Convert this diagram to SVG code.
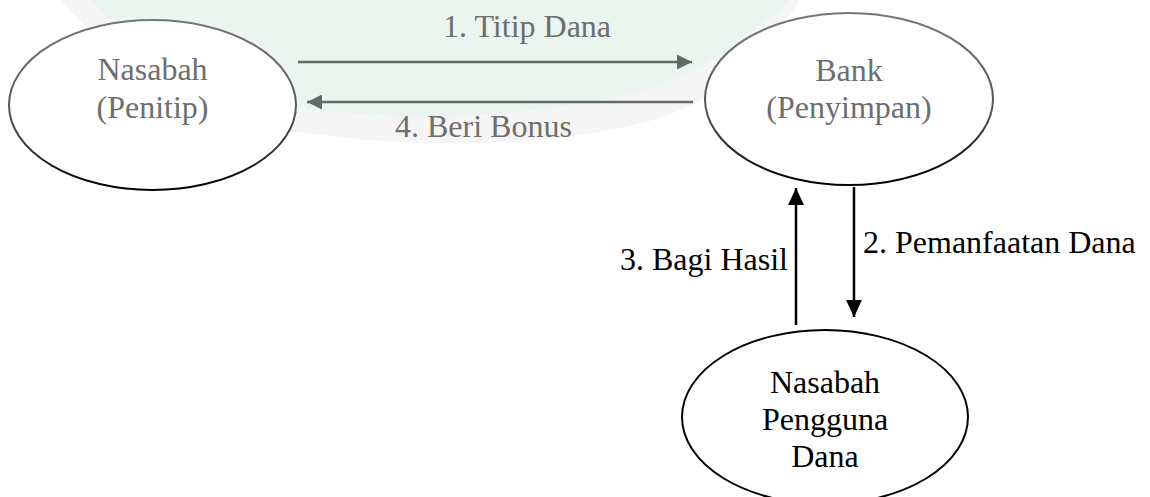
<svg xmlns="http://www.w3.org/2000/svg" width="1150" height="497" viewBox="0 0 1150 497">
  <style>
    .lbl { font-family: "Liberation Serif", "Times New Roman", serif; font-size: 32px; }
    .faded { fill: #6e6e6e; }
    .dark { fill: #000000; }
    .node { fill: #ffffff; stroke-width: 2; }
    .gline { stroke: #5f6b64; stroke-width: 2.5; fill: none; }
    .bline { stroke: #000000; stroke-width: 2.5; fill: none; }
  </style>
  <defs>
    <linearGradient id="fadeStroke" x1="0" y1="0" x2="0" y2="1">
      <stop offset="0" stop-color="#777777"/>
      <stop offset="0.55" stop-color="#555555"/>
      <stop offset="1" stop-color="#000000"/>
    </linearGradient>
    <marker id="gArrow" markerUnits="userSpaceOnUse" markerWidth="15" markerHeight="15" refX="15" refY="7.5" orient="auto">
      <path d="M0,0 L15,7.5 L0,15 z" fill="#5f6b64"/>
    </marker>
    <marker id="bArrow" markerUnits="userSpaceOnUse" markerWidth="17" markerHeight="16" refX="17" refY="8" orient="auto">
      <path d="M0,0 L17,8 L0,16 z" fill="#000000"/>
    </marker>
  </defs>

  <rect width="1150" height="497" fill="#ffffff"/>

  <!-- faint watermark background -->
  <g id="watermark" opacity="0.9">
    <path d="M90,0 C150,60 220,95 300,108 C420,125 560,115 650,88 C700,72 750,40 790,0 Z" fill="#e8f5ee"/>
    <path d="M60,0 C130,75 210,120 300,132 C420,150 560,148 660,118 C710,102 760,60 800,0 L790,0 C750,40 700,72 650,88 C560,115 420,125 300,108 C220,95 150,60 90,0 Z" fill="#f4f4f4"/>
  </g>

  <g id="connectors">
    <path class="gline" d="M298,62 L692,62" marker-end="url(#gArrow)"/>
    <path class="gline" d="M693,102 L307,102" marker-end="url(#gArrow)"/>
    <path class="bline" d="M796,325 L796,188" marker-end="url(#bArrow)"/>
    <path class="bline" d="M854,187 L854,317" marker-end="url(#bArrow)"/>
    <text class="lbl faded" x="443" y="37">1. Titip Dana</text>
    <text class="lbl faded" x="395" y="137">4. Beri Bonus</text>
    <text class="lbl dark" x="620" y="270">3. Bagi Hasil</text>
    <text class="lbl dark" x="863" y="253">2. Pemanfaatan Dana</text>
  </g>

  <g id="node-nasabah-penitip">
    <ellipse class="node" cx="152.5" cy="105" rx="143.5" ry="85" stroke="url(#fadeStroke)"/>
    <text class="lbl faded" x="152.5" y="80" text-anchor="middle">Nasabah</text>
    <text class="lbl faded" x="152.5" y="118" text-anchor="middle">(Penitip)</text>
  </g>

  <g id="node-bank">
    <ellipse class="node" cx="849" cy="99" rx="144" ry="86" stroke="url(#fadeStroke)"/>
    <text class="lbl faded" x="849" y="81" text-anchor="middle">Bank</text>
    <text class="lbl faded" x="849" y="118" text-anchor="middle">(Penyimpan)</text>
  </g>

  <g id="node-nasabah-pengguna">
    <ellipse class="node" cx="825" cy="417" rx="143" ry="87" stroke="#000000"/>
    <text class="lbl dark" x="825" y="393" text-anchor="middle">Nasabah</text>
    <text class="lbl dark" x="825" y="430" text-anchor="middle">Pengguna</text>
    <text class="lbl dark" x="825" y="467" text-anchor="middle">Dana</text>
  </g>
</svg>
